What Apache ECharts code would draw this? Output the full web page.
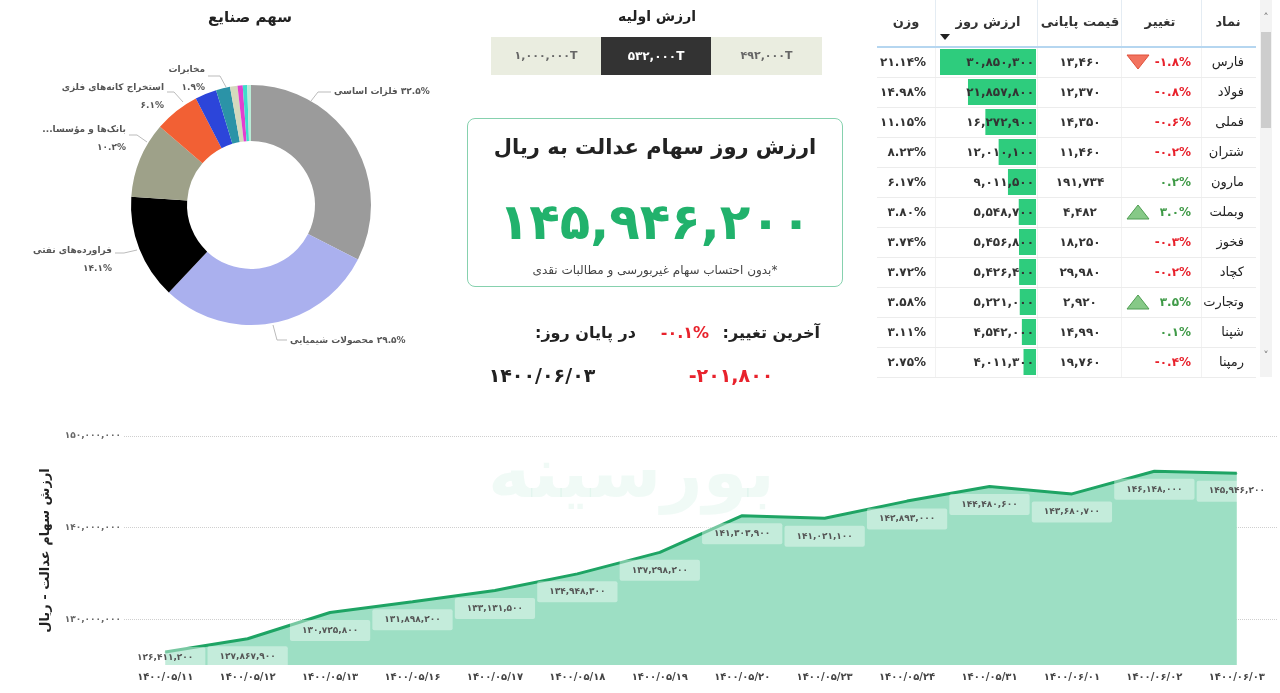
<!DOCTYPE html>
<html><head><meta charset="utf-8">
<script src="https://cdn.jsdelivr.net/npm/echarts@6/dist/echarts.min.js"></script>
<style>
html,body{margin:0;padding:0;width:1280px;height:693px;overflow:hidden;background:#fff;font-family:'DejaVu Sans',sans-serif;}
#chart{position:absolute;left:0;top:0;width:1280px;height:693px;}
#overlay{position:absolute;left:0;top:0;width:1280px;height:693px;pointer-events:none;}
.t{position:absolute;white-space:nowrap;line-height:1.2;}
.r{position:absolute;box-sizing:border-box;}
</style></head>
<body>
<div id="chart" dir="rtl"></div>
<div id="overlay"></div>
<script>
// ---------- DATA ----------
const lineDates = ['۱۴۰۰/۰۵/۱۱','۱۴۰۰/۰۵/۱۲','۱۴۰۰/۰۵/۱۳','۱۴۰۰/۰۵/۱۶','۱۴۰۰/۰۵/۱۷','۱۴۰۰/۰۵/۱۸','۱۴۰۰/۰۵/۱۹','۱۴۰۰/۰۵/۲۰','۱۴۰۰/۰۵/۲۳','۱۴۰۰/۰۵/۲۴','۱۴۰۰/۰۵/۳۱','۱۴۰۰/۰۶/۰۱','۱۴۰۰/۰۶/۰۲','۱۴۰۰/۰۶/۰۳'];
const lineValues = [126411200,127867900,130725800,131898200,133131500,134948300,137298200,141303900,141021100,142893000,144480600,143680700,146148000,145946200];
const yTickValues = [130000000,140000000,150000000];

const industryNames = ['فلزات اساسی','محصولات شیمیایی','فراورده‌های نفتی','بانک‌ها و مؤسسات اعتباری','استخراج کانه‌های فلزی','خودرو و ساخت قطعات','مخابرات','سیمان، آهک و گچ','بیمه','حمل و نقل','سایر'];
const industryLabels = ['فلزات اساسی','محصولات شیمیایی','فراورده‌های نفتی','بانک‌ها و مؤسسا...','استخراج کانه‌های فلزی','','مخابرات','','','',''];
const industryShares = [32.5,29.5,14.1,10.2,6.1,2.9,1.9,1.0,0.7,0.6,0.5];

const tableSymbols = ['فارس','فولاد','فملی','شتران','مارون','وبملت','فخوز','کچاد','وتجارت','شپنا','رمپنا'];
const tableChange = [-1.8,-0.8,-0.6,-0.2,0.2,3.0,-0.3,-0.2,3.5,0.1,-0.4];
const tableClose = [13460,12370,14350,11460,191734,4482,18250,29980,2920,14990,19760];
const tableValue = [30850300,21857800,16272900,12010100,9011500,5548700,5456800,5426400,5221000,4542000,4011300];
const tableWeight = [21.14,14.98,11.15,8.23,6.17,3.80,3.74,3.72,3.58,3.11,2.75];
const tableHeaders = ['نماد','تغییر','قیمت پایانی','ارزش روز','وزن'];

const initialValues = [492000,532000,1000000]; // right-to-left
const selectedInitial = 1;
const todayValue = 145946200;
const lastChangePct = -0.1;
const lastChangeValue = -201800;
const lastDate = '۱۴۰۰/۰۶/۰۳';

// ---------- STYLES / LAYOUT ----------
const industryColors = ['#9b9b9b','#aab0ee','#000000','#9ea189','#f26034','#2c45da','#2b93a7','#d4d9bd','#e23fcf','#3fdccb','#b9ecd6'];
// pie label placement (label anchor + leader line), matching the reference layout
const pieLabelLayout = {
  0:{x:334, y:92,  align:'left',  line:[[311,101],[318,92],[331,92]]},
  1:{x:290, y:341, align:'left',  line:[[273,325],[277,340],[287,340]]},
  2:{x:112, y:260, align:'right', line:[[137,250],[124,253],[115,253]]},
  3:{x:126, y:139, align:'right', line:[[147,142],[137,135],[129,135]]},
  4:{x:164, y:97,  align:'right', line:[[183,102],[174,92],[167,92]]},
  6:{x:205, y:79,  align:'right', line:[[226,87],[220,76],[208,76]]}
};

// ---------- HELPERS ----------
const FA='۰۱۲۳۴۵۶۷۸۹';
const fa = s => String(s).replace(/[0-9]/g, d => FA[d]);
const faNum = n => fa(n.toLocaleString('en-US'));
const faPct = (n,dec) => fa(n.toFixed(dec)) + '%';

// ---------- ECHARTS ----------
const chart = echarts.init(document.getElementById('chart'), null, {renderer:'canvas'});
const PLOT_BOTTOM = 665;
const option = {
  animation:false,
  textStyle:{fontFamily:'DejaVu Sans'},
  graphic:[{type:'text', left:488, top:442, z:-10, style:{text:'بورسینه', font:'bold 72px "DejaVu Sans"', fill:'rgba(140,215,185,0.13)'}}],
  grid:[
    {left:124, right:2, top:436, bottom:693-PLOT_BOTTOM, outerBoundsMode:'none', containLabel:false},
    {left:940, right:244, top:47, height:330, outerBoundsMode:'none', containLabel:false}
  ],
  xAxis:[
    {type:'category', gridIndex:0, data:lineDates, boundaryGap:true,
     axisLine:{show:false}, axisTick:{show:false}, splitLine:{show:false},
     axisLabel:{interval:0, margin:7, fontSize:10, fontWeight:'bold', color:'#444'}},
    {type:'value', gridIndex:1, min:0, max:Math.max(...tableValue), inverse:true, show:false, splitLine:{show:false}}
  ],
  yAxis:[
    {type:'value', gridIndex:0, min:125000000, max:150000000, interval:5000000,
     name:'ارزش سهام عدالت - ریال', nameLocation:'middle', nameRotate:90, nameGap:72,
     nameTextStyle:{fontSize:13, fontWeight:'bold', color:'#222'},
     axisLine:{show:false}, axisTick:{show:false},
     axisLabel:{margin:3, fontSize:9, fontWeight:'bold', color:'#666',
       formatter:v => yTickValues.includes(v) ? faNum(v) : ''},
     splitLine:{show:true, lineStyle:{type:'dotted', width:1, color:['rgba(0,0,0,0)','#cfcfcf']}}},
    {type:'category', gridIndex:1, data:tableSymbols, inverse:true, show:false}
  ],
  series:[
    {type:'pie', center:[251,205], radius:[64,120], startAngle:90, clockwise:true,
     avoidLabelOverlap:true,
     label:{fontSize:9, fontWeight:'bold', color:'#555', lineHeight:18,
       formatter:p => p.dataIndex < 2 ? faPct(industryShares[p.dataIndex],1)+' '+industryLabels[p.dataIndex]
                                       : industryLabels[p.dataIndex]+'\n'+faPct(industryShares[p.dataIndex],1)},
     labelLine:{length:8, length2:12, lineStyle:{color:'#bbb', width:1}},
     labelLayout:p => {
       const L = pieLabelLayout[p.dataIndex];
       return L ? {x:L.x, y:L.y, align:L.align, verticalAlign:'middle', labelLinePoints:L.line} : {};
     },
     emphasis:{disabled:true},
     data:industryNames.map((n,i)=>({name:n, value:industryShares[i], itemStyle:{color:industryColors[i]},
        label:{show:industryLabels[i]!==''}, labelLine:{show:industryLabels[i]!==''}}))},
    {type:'line', xAxisIndex:0, yAxisIndex:0, data:lineValues, smooth:false,
     symbol:'circle', symbolSize:1, itemStyle:{color:'#1ea464'},
     lineStyle:{color:'#1ea464', width:3}, areaStyle:{color:'#9ddfc4', opacity:1},
     label:{show:true, position:'bottom', distance:7, fontSize:9, fontWeight:'bold', color:'#555',
       backgroundColor:'rgba(255,255,255,0.4)', padding:[6,12], borderRadius:2,
       formatter:p => faNum(p.value)},
     labelLayout:p => {
       const r = p.labelRect;
       if (r.y + r.height > PLOT_BOTTOM + 3) {
         return {x:r.x + r.width/2, y:PLOT_BOTTOM + 3 - r.height, align:'center', verticalAlign:'top'};
       }
       return {};
     }},
    {type:'bar', xAxisIndex:1, yAxisIndex:1, data:tableValue, barWidth:26,
     itemStyle:{color:'#2ecc7d'}, silent:true}
  ]
};
chart.setOption(option);

// ---------- HTML OVERLAY ----------
const ov = document.getElementById('overlay');
function T(text, x, y, o={}) {
  const d=document.createElement('div'); d.className='t'; d.textContent=text; d.dir=o.dir||'rtl';
  const s=d.style; s.top=y+'px'; s.fontSize=(o.size||12)+'px'; s.color=o.color||'#333';
  s.fontWeight=o.bold?'bold':'normal';
  const a=o.align||'center';
  if(a==='center'){s.left=x+'px'; s.transform='translate(-50%,-50%)';}
  else if(a==='right'){s.right=(1280-x)+'px'; s.transform='translateY(-50%)';}
  else {s.left=x+'px'; s.transform='translateY(-50%)';}
  ov.appendChild(d); return d;
}
function R(x,y,w,h,css){const d=document.createElement('div'); d.className='r';
  d.style.cssText=`left:${x}px;top:${y}px;width:${w}px;height:${h}px;`+(css||''); ov.appendChild(d); return d;}

// pie title
T('سهم صنایع', 250, 17, {size:15, bold:true, color:'#222'});

// initial value selector
T('ارزش اولیه', 657, 16, {size:14, bold:true, color:'#222'});
const btnX=[711,601,491], btnW=[111,110,110];
initialValues.forEach((v,i)=>{
  const sel=i===selectedInitial;
  R(btnX[i],37,btnW[i],38,'background:'+(sel?'#333333':'#eaede0'));
  T(faNum(v)+'T', btnX[i]+btnW[i]/2, 56, {size:sel?12:11, bold:true, color:sel?'#fff':'#666', dir:'ltr'});
});

// KPI card
R(467,118,376,169,'border:1.5px solid #86d1ae;border-radius:8px;');
T('ارزش روز سهام عدالت به ریال', 655, 148, {size:21, bold:true, color:'#222'});
T(faNum(todayValue), 655, 222, {size:50, bold:true, color:'#21b26c', dir:'ltr'});
T('*بدون احتساب سهام غیربورسی و مطالبات نقدی', 655, 270, {size:12, color:'#444'});

// last change
T('آخرین تغییر:', 820, 333, {size:16, bold:true, color:'#222', align:'right'});
T(faPct(lastChangePct,1), 685, 333, {size:16, bold:true, color:'#e8222c', dir:'ltr'});
T('در پایان روز:', 636, 333, {size:16, bold:true, color:'#222', align:'right'});
T(lastDate, 542, 375, {size:19, bold:true, color:'#222', dir:'ltr'});
T(faNum(lastChangeValue), 731, 375, {size:19, bold:true, color:'#e8222c', dir:'ltr'});

// table
const colLines=[877,935,1037,1121,1201,1256];
R(877,46,379,2,'background:#b5d6f0');
colLines.slice(1,5).forEach(x=>R(x,0,1,46,'background:#e4ecf3'));
colLines.slice(1,5).forEach(x=>R(x,48,1,330,'background:#f2f2f2'));
const hdrX=[1228,1160,1080,988,906];
tableHeaders.forEach((h,i)=>T(h,hdrX[i],22,{size:13,bold:true,color:'#333'}));
R(940,34,10,6,'width:0;height:0;border-left:5px solid transparent;border-right:5px solid transparent;border-top:6px solid #222;');
tableSymbols.forEach((s,i)=>{
  const cy=62+30*i;
  R(877,cy+15,379,1,'background:#ececec');
  T(s,1244,cy,{size:13,color:'#222',align:'right'});
  const c=tableChange[i];
  T((c<0?'-':'')+faPct(Math.abs(c),1),1191,cy,{size:12,bold:true,color:c<0?'#e8222c':'#3f9a47',align:'right',dir:'ltr'});
  if(Math.abs(c)>=1){
    const d=R(1126,cy-8,24,16,'');
    d.innerHTML = c<0
      ? '<svg width="24" height="16"><polygon points="1,1 23,1 12,15" fill="#f2735f" stroke="#e0503a" stroke-width="1"/></svg>'
      : '<svg width="24" height="16"><polygon points="1,15 23,15 12,1" fill="#86c987" stroke="#4f9d52" stroke-width="1"/></svg>';
  }
  T(faNum(tableClose[i]),1080,cy,{size:12,bold:true,color:'#333',dir:'ltr'});
  T(faNum(tableValue[i]),1034,cy,{size:12,bold:true,color:'#333',align:'right',dir:'ltr'});
  T(faPct(tableWeight[i],2),926,cy,{size:12,bold:true,color:'#333',align:'right',dir:'ltr'});
});
// scrollbar
R(1260,0,12,377,'background:#f3f3f3');
R(1261,32,10,96,'background:#cdcdcd');
T('˄',1266,18,{size:11,color:'#777'});
T('˅',1266,356,{size:11,color:'#777'});
</script>
</body></html>
